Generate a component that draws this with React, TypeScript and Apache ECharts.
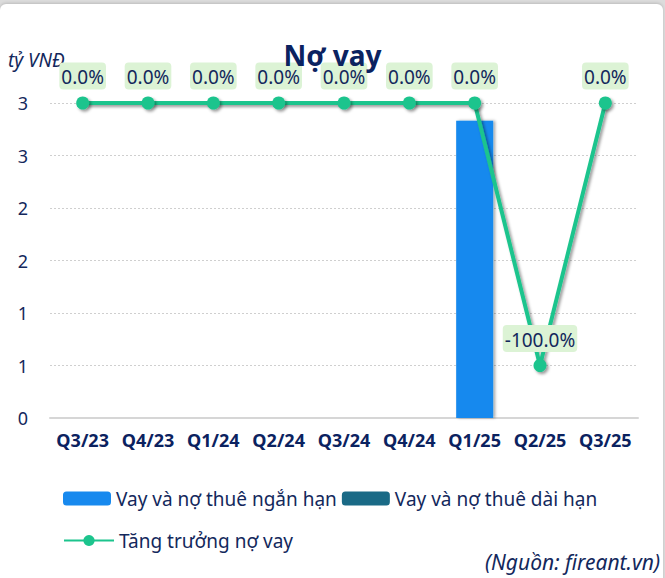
import React, { useEffect, useRef } from "react";
import * as echarts from "echarts";

const categories = ["Q3/23", "Q4/23", "Q1/24", "Q2/24", "Q3/24", "Q4/24", "Q1/25", "Q2/25", "Q3/25"];
const shortTerm = [0, 0, 0, 0, 0, 0, 2.83, 0, 0];
const longTerm = [0, 0, 0, 0, 0, 0, 0, 0, 0];
const growth = [0, 0, 0, 0, 0, 0, 0, -100, 0];

const FONT = "'Noto Sans', 'Open Sans', sans-serif";
const NAVY = "#13285c";

export default function App() {
  const ref = useRef<HTMLDivElement>(null);
  useEffect(() => {
    document.body.style.margin = "0";
    const chart = echarts.init(ref.current!, undefined, { renderer: "svg" });
    chart.setOption({
      animation: false,
      textStyle: { fontFamily: FONT },
      title: {
        text: "Nợ vay",
        left: "center",
        top: 36,
        textStyle: { fontFamily: FONT, fontSize: 28, fontWeight: "bold", color: "#0b2260" },
      },
      graphic: [
        {
          type: "text",
          left: 8,
          top: 50,
          style: { text: "tỷ VNĐ", font: `italic 19px ${FONT}`, fill: NAVY },
        },
        {
          type: "text",
          right: 5,
          top: 551,
          style: { text: "(Nguồn: fireant.vn)", font: `italic 21px ${FONT}`, fill: NAVY },
        },
      ],
      legend: [
        {
          data: ["Vay và nợ thuê ngắn hạn", "Vay và nợ thuê dài hạn"],
          left: 58,
          top: 484,
          itemWidth: 48,
          itemHeight: 14,
          itemGap: 5,
          textStyle: { fontFamily: FONT, fontSize: 19, color: NAVY },
        },
        {
          data: ["Tăng trưởng nợ vay"],
          left: 58,
          top: 526,
          itemWidth: 50,
          itemHeight: 14,
          textStyle: { fontFamily: FONT, fontSize: 19, color: NAVY },
        },
      ],
      grid: { left: 50, right: 27, top: 103, bottom: 160 },
      xAxis: {
        type: "category",
        data: categories,
        axisTick: { show: false },
        axisLine: { lineStyle: { color: "#d6d6d6", width: 2 } },
        axisLabel: { fontFamily: FONT, fontSize: 18, fontWeight: "bold", color: "#0b2260", margin: 13, interval: 0 },
      },
      yAxis: [
        {
          type: "value",
          min: 0,
          max: 3,
          interval: 0.5,
          axisLabel: {
            fontFamily: FONT,
            fontSize: 18,
            color: NAVY,
            margin: 22,
            formatter: (v: number) => String(Math.round(v)),
          },
          splitLine: { lineStyle: { color: "#cfcfcf", type: [2, 2], width: 1 } },
        },
        {
          type: "value",
          min: -120,
          max: 0,
          show: false,
          splitLine: { show: false },
        },
      ],
      series: [
        {
          name: "Vay và nợ thuê ngắn hạn",
          type: "bar",
          stack: "debt",
          barWidth: 37,
          data: shortTerm,
          itemStyle: {
            color: "#1789ee",
            shadowColor: "rgba(0,0,0,0.35)",
            shadowBlur: 3,
            shadowOffsetX: 2,
            shadowOffsetY: 0,
          },
        },
        {
          name: "Vay và nợ thuê dài hạn",
          type: "bar",
          stack: "debt",
          barWidth: 37,
          data: longTerm,
          itemStyle: { color: "#1a6a86" },
        },
        {
          name: "Tăng trưởng nợ vay",
          type: "line",
          yAxisIndex: 1,
          data: growth,
          symbol: "circle",
          symbolSize: 13,
          z: 5,
          lineStyle: {
            color: "#1cc48d",
            width: 4,
            shadowColor: "rgba(0,0,0,0.4)",
            shadowBlur: 3,
            shadowOffsetX: 2,
            shadowOffsetY: 2,
          },
          itemStyle: {
            color: "#1cc48d",
            shadowColor: "rgba(0,0,0,0.4)",
            shadowBlur: 3,
            shadowOffsetX: 2,
            shadowOffsetY: 2,
          },
          label: {
            show: true,
            position: "top",
            distance: 7,
            fontFamily: FONT,
            fontSize: 19,
            color: NAVY,
            backgroundColor: "#dcf3d5",
            borderRadius: 4,
            padding: [5, 2, 3, 2],
            formatter: (p: any) => Number(p.value).toFixed(1) + "%",
          },
        },
      ],
    });
    return () => chart.dispose();
  }, []);

  return (
    <div style={{ position: "fixed", left: 0, top: 0, width: 665, height: 578, background: "#dcdcdc", overflow: "hidden" }}>
      <div
        style={{
          position: "absolute",
          left: 0,
          top: 4,
          width: 663,
          height: 600,
          background: "#ffffff",
          borderRadius: 6,
          boxShadow: "0 -1px 3px rgba(0,0,0,0.15)",
        }}
      />
      <div ref={ref} style={{ position: "absolute", left: 0, top: 0, width: 665, height: 578 }} />
    </div>
  );
}
